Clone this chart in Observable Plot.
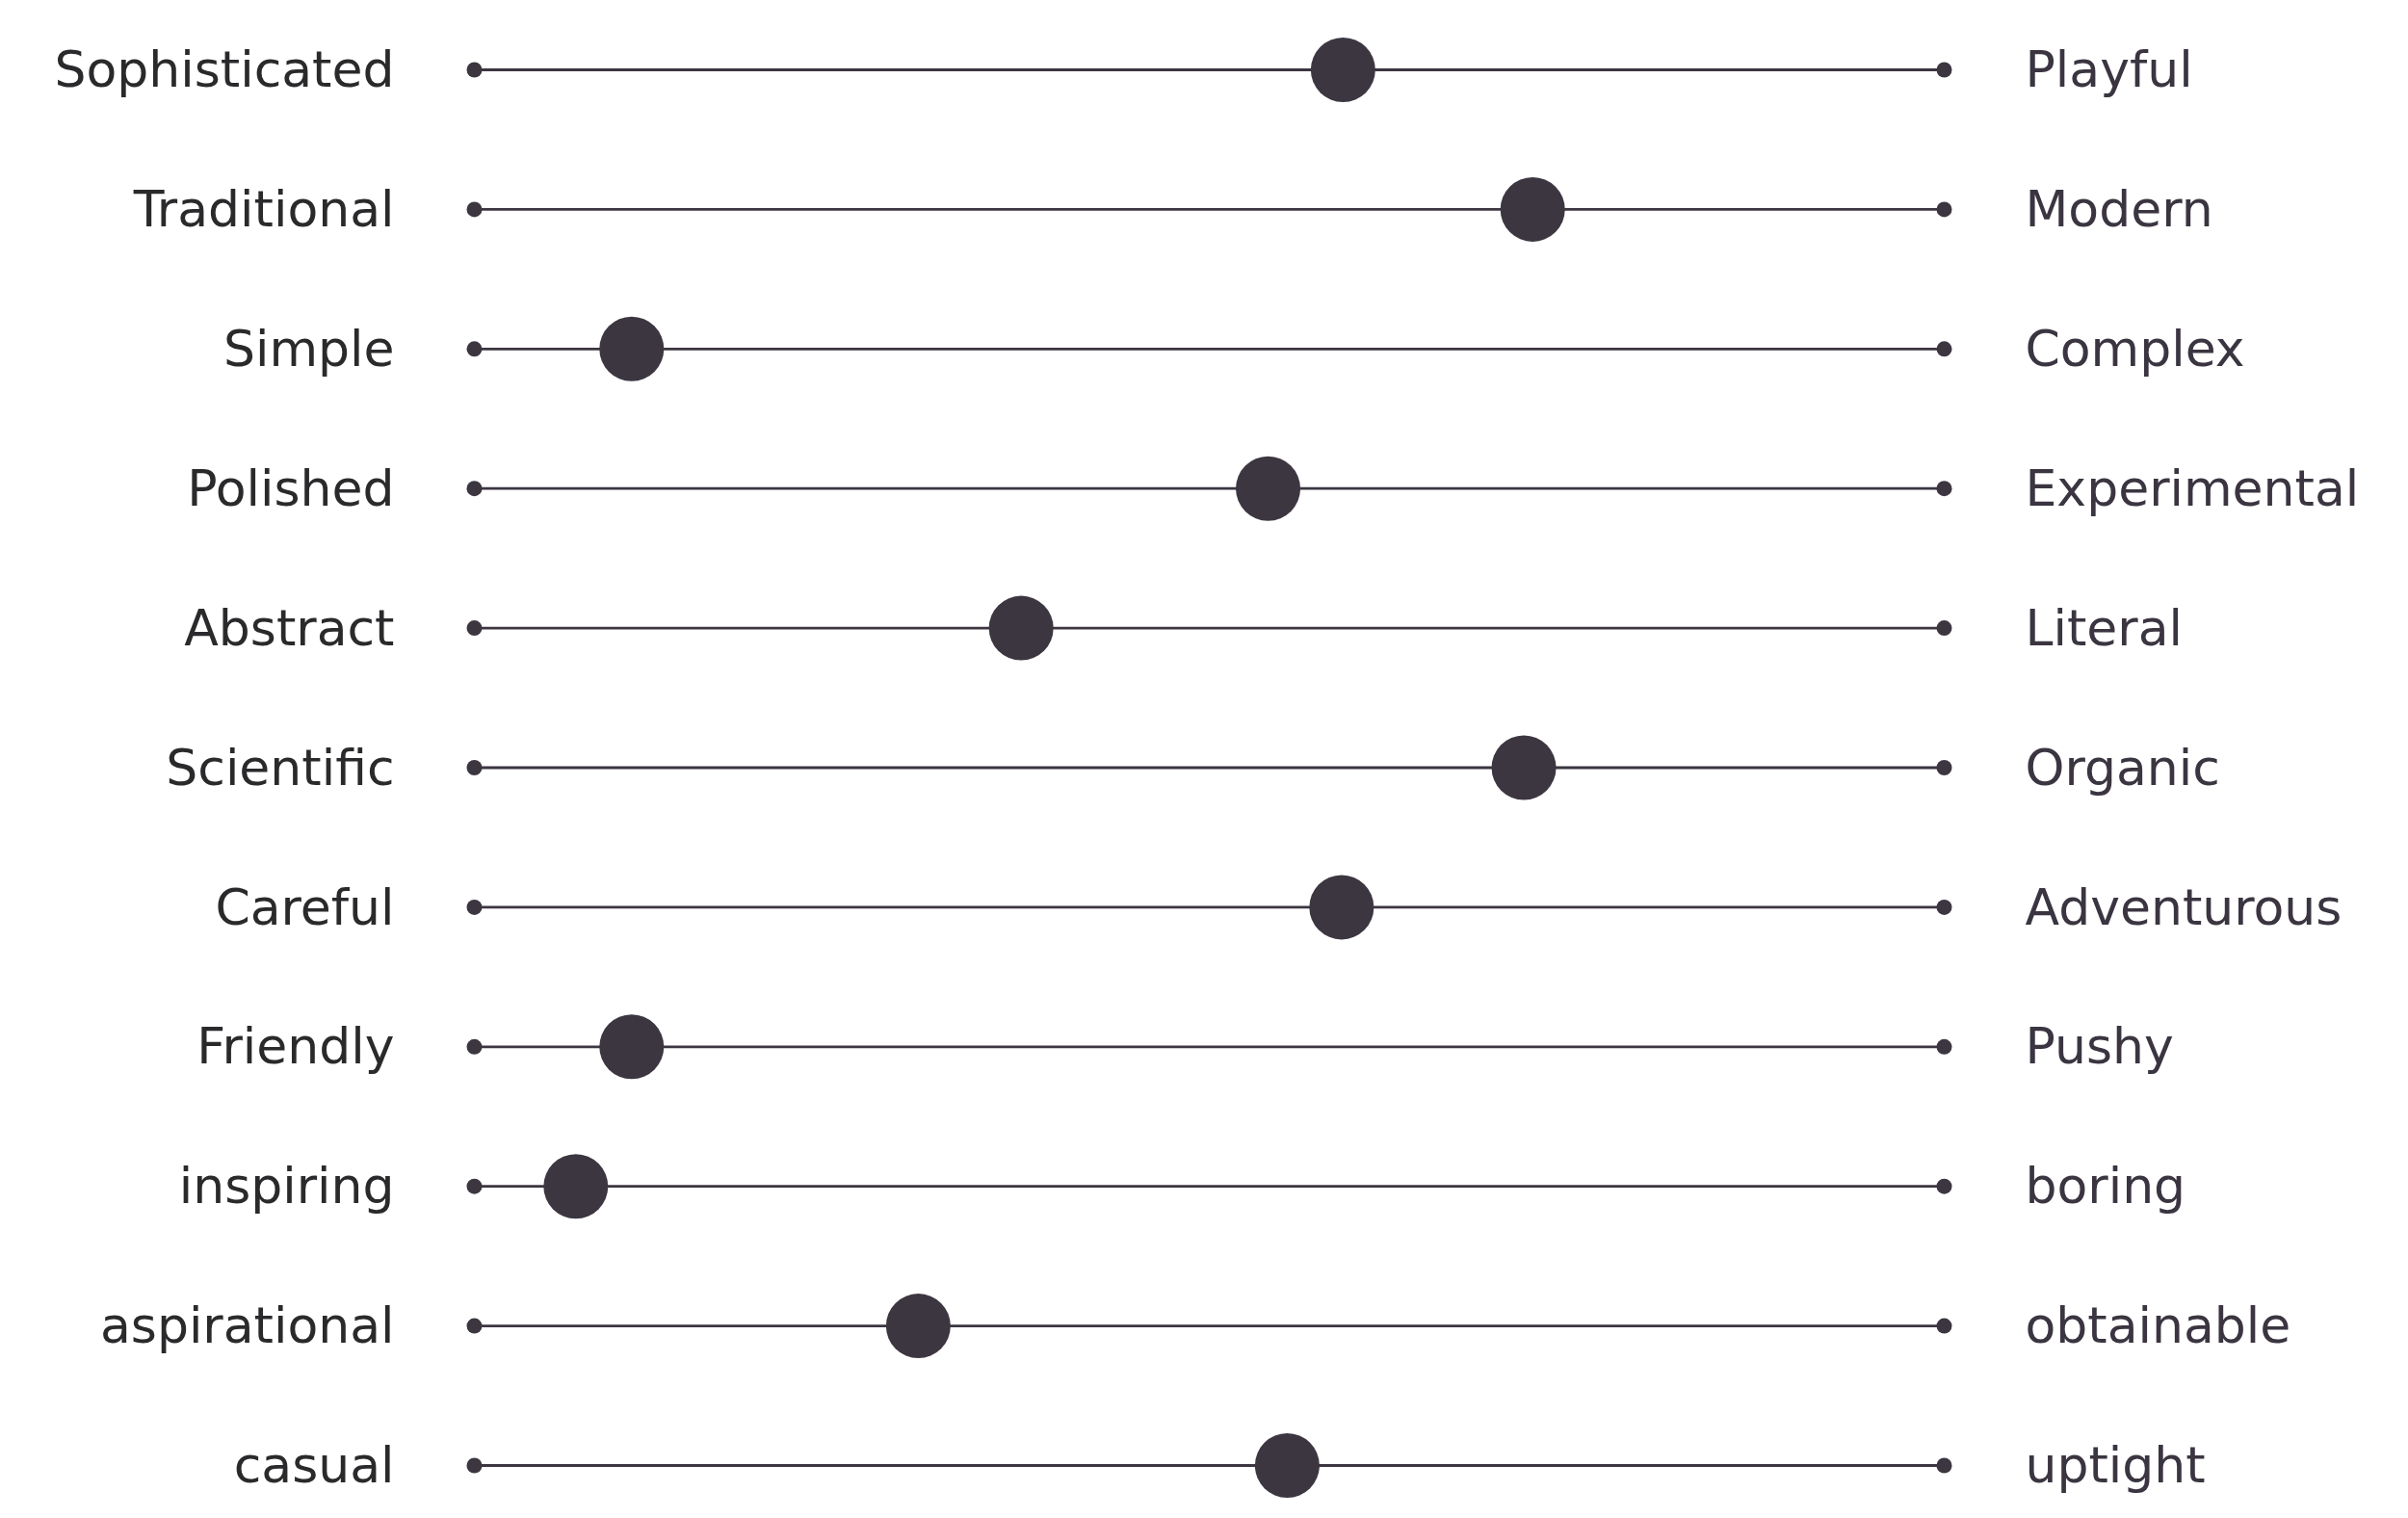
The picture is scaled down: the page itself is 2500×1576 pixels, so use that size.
<!DOCTYPE html>
<html>
<head>
<meta charset="utf-8">
<script src="https://cdn.jsdelivr.net/npm/d3@7"></script>
<script src="https://cdn.jsdelivr.net/npm/@observablehq/plot@0.6"></script>
<style>
  html, body { margin: 0; padding: 0; background: #ffffff; overflow: hidden; }
  #chart svg { display: block; }
</style>
</head>
<body>
<div id="chart"></div>
<script>
// Semantic differential: left pole, right pole, position of the marker (0 = left pole, 100 = right pole)
const leftPoles  = ["Sophisticated", "Traditional", "Simple", "Polished", "Abstract", "Scientific", "Careful", "Friendly", "inspiring", "aspirational", "casual"];
const rightPoles = ["Playful", "Modern", "Complex", "Experimental", "Literal", "Organic", "Adventurous", "Pushy", "boring", "obtainable", "uptight"];
const scores     = [59.1, 72.0, 10.7, 54.0, 37.2, 71.4, 59.0, 10.7, 6.9, 30.2, 55.3];
const scaleEnds  = [0, 100];

const rows = leftPoles.map((l, i) => ({left: l, right: rightPoles[i], value: scores[i]}));
const ends = rows.flatMap(r => scaleEnds.map(e => ({left: r.left, value: e})));

const ink = "#3c3641";

const chart = Plot.plot({
  width: 2500,
  height: 1576,
  marginLeft: 492,
  marginRight: 482,
  marginTop: 72,
  marginBottom: 55,
  style: {fontFamily: "'DejaVu Sans', sans-serif", background: "#ffffff"},
  x: {domain: scaleEnds, axis: null},
  y: {type: "point", domain: leftPoles, padding: 0, round: false, axis: null},
  marks: [
    Plot.ruleY(rows, {y: "left", x1: () => scaleEnds[0], x2: () => scaleEnds[1], stroke: ink, strokeWidth: 2.8}),
    Plot.dot(ends, {x: "value", y: "left", r: 8, fill: ink, stroke: "none"}),
    Plot.dot(rows, {x: "value", y: "left", r: 33.5, fill: ink, stroke: "none"}),
    Plot.text(rows, {x: () => scaleEnds[0], y: "left", text: "left", textAnchor: "end", dx: -83, dy: 1, fontSize: 52, fill: "#2a2a2c"}),
    Plot.text(rows, {x: () => scaleEnds[1], y: "left", text: "right", textAnchor: "start", dx: 84, dy: 1, fontSize: 52, fill: "#3a3540"})
  ]
});
document.getElementById("chart").appendChild(chart);
</script>
</body>
</html>
